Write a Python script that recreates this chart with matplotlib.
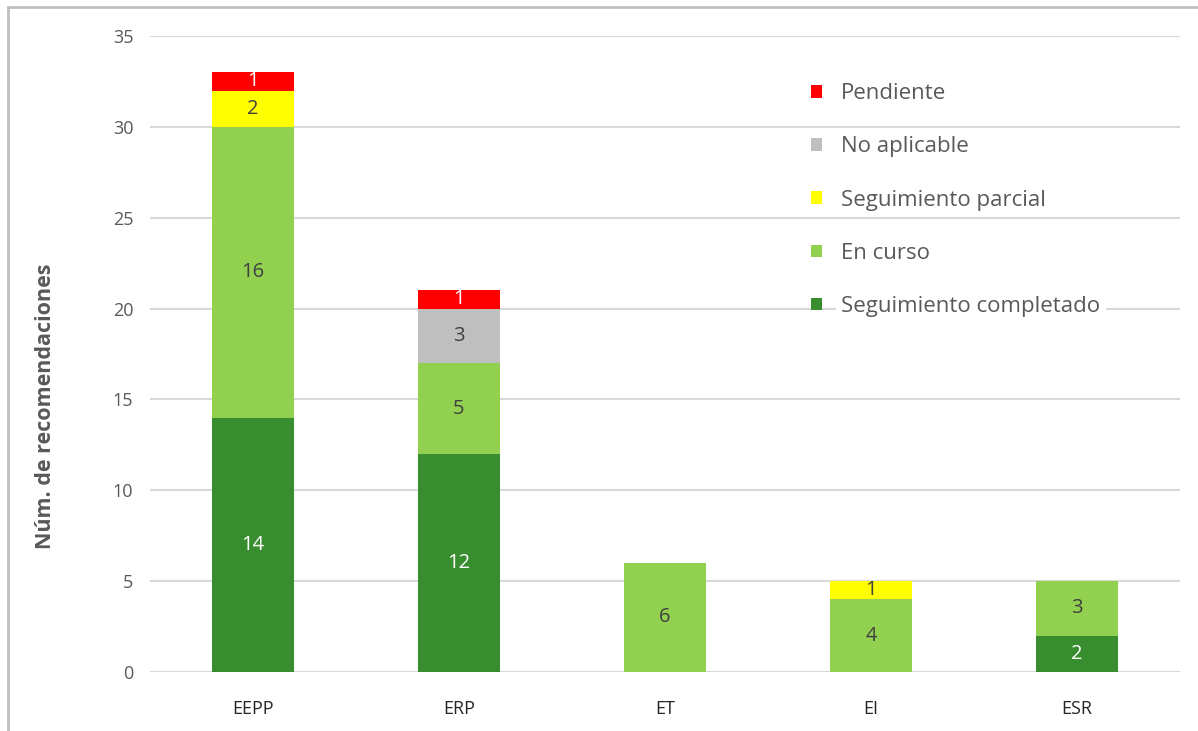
import matplotlib
matplotlib.use("Agg")
import matplotlib.pyplot as plt
from matplotlib.patches import Rectangle
import numpy as np

plt.rcParams['font.family'] = ['Open Sans', 'DejaVu Sans']

categorias = ['EEPP', 'ERP', 'ET', 'EI', 'ESR']
completado = [14, 12, 0, 0, 2]
en_curso = [16, 5, 6, 4, 3]
parcial = [2, 0, 0, 1, 0]
no_aplicable = [0, 3, 0, 0, 0]
pendiente = [1, 1, 0, 0, 0]

series = [
    ('Seguimiento completado', completado, '#388E2E', 'white'),
    ('En curso', en_curso, '#92D050', '#404040'),
    ('Seguimiento parcial', parcial, '#FFFF00', '#404040'),
    ('No aplicable', no_aplicable, '#BFBFBF', '#404040'),
    ('Pendiente', pendiente, '#FF0000', 'white'),
]

fig = plt.figure(figsize=(11.98, 7.31), dpi=100)
ax = fig.add_axes([150 / 1198, 1 - 672 / 731, 1030 / 1198, 636 / 731])

# outer border like the exported chart area
fig.patches.append(Rectangle((8 / 1198, -0.2), 1.2, 1.2 - 7 / 731,
                             transform=fig.transFigure, fill=False,
                             edgecolor='#BFBFBF', linewidth=2, zorder=0))

x = np.arange(len(categorias))
bottom = np.zeros(len(categorias))
handles = []
for name, vals, color, tcolor in series:
    vals = np.array(vals, dtype=float)
    bars = ax.bar(x, vals, 0.4, bottom=bottom, color=color, label=name, zorder=3)
    handles.append(bars)
    for xi, v, b in zip(x, vals, bottom):
        if v > 0:
            ax.text(xi, b + v / 2, f"{int(v)}", ha='center', va='center',
                    fontsize=14.5, color=tcolor, zorder=4)
    bottom += vals

ax.set_xlim(-0.5, len(categorias) - 0.5)
ax.set_ylim(0, 35)
ax.set_yticks(range(0, 36, 5))
ax.yaxis.grid(True, color='#D9D9D9', linewidth=1.5, zorder=0)
ax.set_axisbelow(True)
for s in ax.spines.values():
    s.set_visible(False)
ax.tick_params(axis='both', length=0)
ax.tick_params(axis='y', labelsize=13, labelcolor='#595959', pad=12)
ax.tick_params(axis='x', labelsize=13, labelcolor='#262626', pad=20)
ax.set_xticks(x)
ax.set_xticklabels(categorias)
ax.set_ylabel('Núm. de recomendaciones', fontsize=15.5, fontweight='bold',
              color='#595959', va='center')
ax.yaxis.set_label_coords((46 - 150) / 1030, (672 - 406) / 636)

leg = ax.legend(handles[::-1], [s[0] for s in series][::-1],
                loc='upper left', bbox_to_anchor=(650 / 1030, 1 - 36 / 636),
                frameon=False, fontsize=16, labelcolor='#595959',
                handlelength=0.5, handleheight=0.5, handletextpad=0.85,
                labelspacing=1.45, borderpad=0)
for t in leg.get_texts():
    t.set_bbox(dict(facecolor='white', edgecolor='none', pad=4))

fig.savefig('out.png', dpi=100)
